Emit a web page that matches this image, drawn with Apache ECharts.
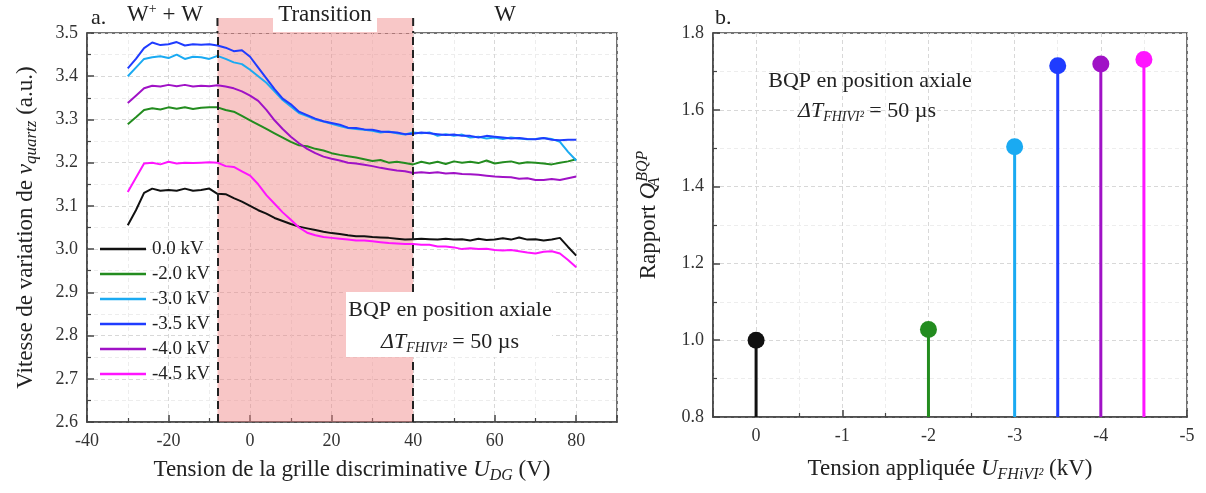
<!DOCTYPE html>
<html><head><meta charset="utf-8">
<script src="https://cdn.jsdelivr.net/npm/echarts@6/dist/echarts.min.js"></script>
<style>html,body{margin:0;padding:0;background:#fff}#c{width:1206px;height:493px}</style>
</head><body><div id="c"></div><script>
// ---------- DATA ----------
const xVals = [-30,-28,-26,-24,-22,-20,-18,-16,-14,-12,-10,-8,-6,-4,-2,0,2,4,6,8,10,12,14,16,18,20,22,24,26,28,30,32,34,36,38,40,42,44,46,48,50,52,54,56,58,60,62,64,66,68,70,72,74,76,78,80];
const v0kV = [3.055,3.09,3.13,3.14,3.135,3.137,3.135,3.14,3.135,3.137,3.14,3.128,3.127,3.118,3.11,3.1,3.09,3.082,3.072,3.065,3.058,3.052,3.048,3.044,3.04,3.037,3.035,3.032,3.03,3.03,3.028,3.027,3.026,3.024,3.022,3.023,3.024,3.023,3.022,3.024,3.022,3.023,3.02,3.024,3.021,3.022,3.025,3.022,3.027,3.022,3.023,3.02,3.022,3.026,3.005,2.985];
const v2kV = [3.289,3.305,3.322,3.326,3.323,3.328,3.325,3.328,3.324,3.327,3.328,3.328,3.322,3.318,3.308,3.298,3.288,3.278,3.268,3.258,3.248,3.24,3.238,3.232,3.228,3.222,3.218,3.215,3.212,3.208,3.204,3.206,3.2,3.202,3.199,3.196,3.202,3.198,3.202,3.197,3.203,3.2,3.202,3.199,3.205,3.198,3.201,3.203,3.198,3.201,3.2,3.198,3.196,3.2,3.203,3.208];
const v3kV = [3.40,3.42,3.44,3.444,3.446,3.442,3.45,3.44,3.445,3.444,3.44,3.447,3.44,3.432,3.428,3.415,3.40,3.385,3.365,3.345,3.33,3.315,3.308,3.3,3.295,3.29,3.285,3.28,3.278,3.276,3.274,3.27,3.272,3.268,3.265,3.27,3.268,3.27,3.262,3.266,3.262,3.265,3.258,3.26,3.256,3.258,3.255,3.258,3.256,3.254,3.255,3.257,3.255,3.248,3.225,3.205];
const v35kV = [3.418,3.44,3.465,3.478,3.472,3.474,3.479,3.471,3.474,3.473,3.474,3.471,3.466,3.458,3.46,3.445,3.42,3.395,3.37,3.348,3.335,3.318,3.31,3.302,3.296,3.292,3.288,3.281,3.28,3.277,3.276,3.272,3.271,3.27,3.266,3.267,3.27,3.268,3.266,3.264,3.265,3.262,3.262,3.258,3.262,3.26,3.258,3.256,3.257,3.255,3.254,3.257,3.253,3.252,3.253,3.253];
const v4kV = [3.338,3.355,3.372,3.378,3.376,3.38,3.377,3.38,3.376,3.378,3.377,3.379,3.376,3.372,3.365,3.355,3.343,3.322,3.298,3.278,3.26,3.245,3.232,3.222,3.214,3.209,3.205,3.2,3.198,3.195,3.192,3.188,3.185,3.182,3.18,3.176,3.178,3.176,3.178,3.175,3.176,3.174,3.173,3.172,3.17,3.168,3.167,3.166,3.163,3.164,3.16,3.16,3.162,3.16,3.164,3.168];
const v45kV = [3.132,3.165,3.198,3.2,3.196,3.202,3.198,3.2,3.199,3.2,3.201,3.2,3.192,3.19,3.18,3.17,3.15,3.125,3.105,3.085,3.068,3.05,3.038,3.032,3.028,3.026,3.024,3.022,3.02,3.02,3.018,3.016,3.014,3.013,3.012,3.012,3.01,3.01,3.006,3.006,3.004,3.0,3.002,3.0,3.001,2.998,2.997,2.998,2.995,2.992,2.99,2.994,2.995,2.99,2.975,2.958];
const seriesNames = ['0.0 kV','-2.0 kV','-3.0 kV','-3.5 kV','-4.0 kV','-4.5 kV'];
const curves = [v0kV, v2kV, v3kV, v35kV, v4kV, v45kV];
const transitionRange = [-8, 40];
const ratioX = [0, -2, -3, -3.5, -4, -4.5];
const ratioY = [1.0, 1.028, 1.504, 1.715, 1.719, 1.731];

// ---------- STYLE ----------
const colors = ['#111111','#238c1f','#1aaaf2','#1f3cff','#a012c6','#ff14ff'];
const FONT = '"Liberation Serif","Times New Roman",serif';
const AX = '#444';
const GRIDC = '#d8d8d8', MINC = '#ededed';

function axisCommon(){
  return {
    axisLine:{show:true,onZero:false,lineStyle:{color:AX,width:1.5}},
    axisTick:{show:true,inside:true,length:7,lineStyle:{color:AX,width:1.5}},
    minorTick:{show:true,splitNumber:2,length:4,lineStyle:{color:AX,width:1.2}},
    splitLine:{show:true,lineStyle:{color:GRIDC,type:[4,3],width:1}},
    minorSplitLine:{show:true,lineStyle:{color:MINC,type:[4,3],width:1}},
    nameLocation:'middle'
  };
}
function makeRich(main, sub){
  return {
    n:{fontFamily:FONT,fontSize:main,color:'#222',lineHeight:28},
    i:{fontFamily:FONT,fontSize:main,color:'#222',fontStyle:'italic',lineHeight:28},
    s:{fontFamily:FONT,fontSize:sub,color:'#222',fontStyle:'italic',lineHeight:12,verticalAlign:'bottom'},
    s0:{fontFamily:FONT,fontSize:sub,color:'#222',fontStyle:'italic',lineHeight:12,verticalAlign:'bottom',width:1},
    p:{fontFamily:FONT,fontSize:sub,color:'#222',fontStyle:'italic',lineHeight:14,verticalAlign:'top'}
  };
}

const chart = echarts.init(document.getElementById('c'));
const lineSeries = curves.map((arr,k)=>({
  type:'line', name:seriesNames[k], xAxisIndex:0, yAxisIndex:0,
  data:xVals.map((x,i)=>[x,arr[i]]), symbol:'none', showSymbol:false,
  lineStyle:{color:colors[k],width:2}, itemStyle:{color:colors[k]}, z:3
}));
const bgSeries = {
  type:'line', name:'bg', xAxisIndex:0, yAxisIndex:0, data:[], z:1, silent:true,
  markArea:{silent:true, itemStyle:{color:'rgba(240,128,128,0.45)'}, data:[[{xAxis:transitionRange[0]},{xAxis:transitionRange[1]}]]},
  markLine:{silent:true, symbol:'none', label:{show:false}, lineStyle:{color:'#222',type:[8,5],width:2},
    data:[{xAxis:transitionRange[0]},{xAxis:transitionRange[1]}]}
};
const stemData = ratioX.map((x,i)=>({value:[x,ratioY[i]], itemStyle:{color:colors[i],opacity:1}}));

const option = {
  animation:false,
  backgroundColor:'#fff',
  grid:[
    {left:87, top:33, width:530, height:389, show:true, borderColor:AX, borderWidth:1.5},
    {left:713, top:33, width:474, height:384, show:true, borderColor:AX, borderWidth:1.5}
  ],
  legend:{
    data:seriesNames, orient:'vertical', left:100, top:239, padding:0,
    icon:'rect', itemWidth:46, itemHeight:2.5, itemGap:5,
    textStyle:{fontFamily:FONT,fontSize:19,color:'#222',lineHeight:20,padding:[0,0,0,1]}
  },
  xAxis:[
    Object.assign(axisCommon(),{
      type:'value', gridIndex:0, min:-40, max:90, interval:20,
      axisLabel:{fontFamily:FONT,fontSize:18,color:'#333',margin:10,showMaxLabel:false},
      name:'{n|Tension de la grille discriminative }{i|U}{s|DG}{n| (V)}',
      nameGap:34, nameTextStyle:{rich:makeRich(23,16)}
    }),
    Object.assign(axisCommon(),{
      type:'value', gridIndex:1, min:-5, max:0.5, interval:1, inverse:true,
      axisLabel:{fontFamily:FONT,fontSize:18,color:'#333',margin:10,showMaxLabel:false},
      name:'{n|Tension appliquée }{i|U}{s|FHiVI²}{n| (kV)}',
      nameGap:38, nameTextStyle:{rich:makeRich(23,16)}
    })
  ],
  yAxis:[
    Object.assign(axisCommon(),{
      type:'value', gridIndex:0, min:2.6, max:3.5, interval:0.1,
      axisLabel:{fontFamily:FONT,fontSize:18,color:'#333',margin:9,formatter:v=>v.toFixed(1)},
      name:'{n|Vitesse de variation de }{i|ν}{s|quartz}{n| (a.u.)}',
      nameGap:47, nameTextStyle:{rich:makeRich(23,17)}
    }),
    Object.assign(axisCommon(),{
      type:'value', gridIndex:1, min:0.8, max:1.8, interval:0.2,
      axisLabel:{fontFamily:FONT,fontSize:18,color:'#333',margin:9,formatter:v=>v.toFixed(1)},
      name:'{n|Rapport }{i|Q}{s0|A}{p|BQP}',
      nameGap:50, nameTextStyle:{rich:makeRich(23,16),padding:[0,0,0,20]}
    })
  ],
  series:[bgSeries].concat(lineSeries).concat([
    {type:'bar', xAxisIndex:1, yAxisIndex:1, data:stemData, barWidth:3, silent:true, z:2},
    {type:'scatter', xAxisIndex:1, yAxisIndex:1, data:stemData, symbol:'circle', symbolSize:17, silent:true, z:3}
  ])
};
chart.setOption(option);

// annotations positioned with the library's own scales
const P = (gi,x,y)=>chart.convertToPixel({gridIndex:gi},[x,y]);
const [xa, yTop] = P(0, transitionRange[0], 3.5);
const [xb] = P(0, transitionRange[1], 3.5);
const stripTop = yTop - 15;
const txt = (t,x,y,size,align)=>({type:'text', z:100, style:{text:t,x:x,y:y,font:size+'px '+FONT,fill:'#222',align:align||'center',verticalAlign:'middle'}});
const annoRich = {
  n:{fontFamily:FONT,fontSize:22,fill:'#222',lineHeight:26},
  i:{fontFamily:FONT,fontSize:22,fill:'#222',fontStyle:'italic',lineHeight:26},
  s:{fontFamily:FONT,fontSize:14,fill:'#222',fontStyle:'italic',lineHeight:12,verticalAlign:'bottom'}
};
chart.setOption({graphic:[
  {type:'rect', z:50, shape:{x:xa,y:stripTop,width:xb-xa,height:yTop-stripTop}, style:{fill:'#f8c7c7'}},
  {type:'rect', z:51, shape:{x:273,y:stripTop,width:104,height:yTop-stripTop-1}, style:{fill:'#fff'}},
  {type:'line', z:52, shape:{x1:xa,y1:stripTop,x2:xa,y2:yTop}, style:{stroke:'#222',lineWidth:2,lineDash:[8,5]}},
  {type:'line', z:52, shape:{x1:xb,y1:stripTop,x2:xb,y2:yTop}, style:{stroke:'#222',lineWidth:2,lineDash:[8,5]}},
  txt('Transition',325,15,23),
  txt('a.',91,18,22,'left'),
  txt('b.',715,18,22,'left'),
  txt('W',505,15,23),
  {type:'text', z:100, style:{text:'{n|W}{p|+}{n| + W}', x:165, y:15, align:'center', verticalAlign:'middle',
    rich:{n:{fontFamily:FONT,fontSize:23,fill:'#222',lineHeight:26},p:{fontFamily:FONT,fontSize:14,fill:'#222',lineHeight:14,verticalAlign:'top'}}}},
  {type:'rect', z:90, shape:{x:346,y:292,width:206,height:65}, style:{fill:'#fff'}},
  txt('BQP en position axiale',450,310,22),
  {type:'text', z:100, style:{text:'{i|ΔT}{s|FHIVI²}{n| = 50 µs}', x:450, y:342, align:'center', verticalAlign:'middle', rich:annoRich}},
  txt('BQP en position axiale',870,81,22),
  {type:'text', z:100, style:{text:'{i|ΔT}{s|FHIVI²}{n| = 50 µs}', x:867, y:111, align:'center', verticalAlign:'middle', rich:annoRich}}
]});
</script></body></html>
